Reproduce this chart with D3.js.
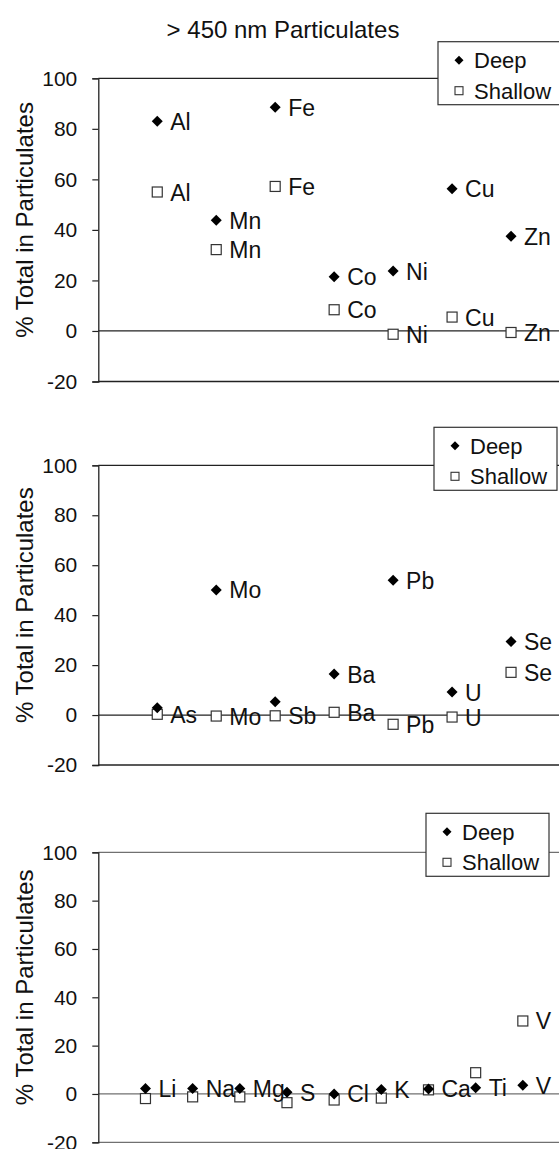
<!DOCTYPE html>
<html>
<head>
<meta charset="utf-8">
<script src="https://cdn.jsdelivr.net/npm/d3@7/dist/d3.min.js"></script>
<style>
  html, body { margin: 0; padding: 0; background: #fff; }
  svg { display: block; font-family: "Liberation Sans", Arial, Helvetica, sans-serif; }
</style>
</head>
<body>
<svg id="chart" width="559" height="1149"></svg>
<script>
// ---- data ----
const titleText = "> 450 nm Particulates";
const yAxisTitle = "% Total in Particulates";
const seriesNames = ["Deep", "Shallow"];
const yTicks = [-20, 0, 20, 40, 60, 80, 100];

// metals panel
const metalsElements = ["Al", "Mn", "Fe", "Co", "Ni", "Cu", "Zn"];
const metalsDeep     = [83, 43.8, 88.5, 21.5, 23.7, 56.3, 37.5];
const metalsShallow  = [55, 32.2, 57.2, 8.4, -1.3, 5.5, -0.6];
const metalsDeepLabelled    = [true, true, true, true, true, true, true];
const metalsShallowLabelled = [true, true, true, true, true, true, true];

// trace elements panel
const traceElements = ["As", "Mo", "Sb", "Ba", "Pb", "U", "Se"];
const traceDeep     = [2.9, 50.1, 5.3, 16.4, 54, 9.2, 29.4];
const traceShallow  = [0.3, -0.4, -0.3, 1.1, -3.7, -0.8, 17.1];
const traceDeepLabelled    = [false, true, false, true, true, true, true];
const traceShallowLabelled = [true, true, true, true, true, true, true];

// major elements panel
const majorElements = ["Li", "Na", "Mg", "S", "Cl", "K", "Ca", "Ti", "V"];
const majorDeep     = [2.3, 2.3, 2.3, 0.7, 0, 1.9, 2.1, 2.6, 3.6];
const majorShallow  = [-1.9, -1.2, -1.2, -3.6, -2.5, -1.7, 1.7, 8.8, 30.2];
const majorDeepLabelled    = [true, true, true, true, true, true, true, true, true];
const majorShallowLabelled = [false, false, false, false, false, false, false, false, true];

// ---- layout ----
const axisX = 98.3, plotRight = 570;
const panels = [
  { names: metalsElements, deep: metalsDeep, shallow: metalsShallow,
    deepLab: metalsDeepLabelled, shallowLab: metalsShallowLabelled, xMax: 8,
    top: 78.3, bottom: 381.5, legend: { x: 438, y: 41.7 }, lineColor: "#222" },
  { names: traceElements, deep: traceDeep, shallow: traceShallow,
    deepLab: traceDeepLabelled, shallowLab: traceShallowLabelled, xMax: 8,
    top: 465.3, bottom: 765, legend: { x: 434, y: 427.3 }, lineColor: "#222" },
  { names: majorElements, deep: majorDeep, shallow: majorShallow,
    deepLab: majorDeepLabelled, shallowLab: majorShallowLabelled, xMax: 10,
    top: 852.3, bottom: 1142.3, legend: { x: 426, y: 813.3 }, lineColor: "#707070" }
];

const svg = d3.select("#chart");

svg.append("text")
  .attr("x", 283).attr("y", 38)
  .attr("text-anchor", "middle")
  .attr("font-size", 24)
  .attr("fill", "#111")
  .text(titleText);

function diamond(r) {
  return `M0,${-r}L${r},0L0,${r}L${-r},0Z`;
}

panels.forEach(p => {
  const g = svg.append("g");
  const x = d3.scaleLinear().domain([0, p.xMax]).range([axisX, plotRight]);
  const y = d3.scaleLinear().domain([-20, 100]).range([p.bottom, p.top]);

  // plot frame: top and bottom borders, zero line
  [100, -20, 0].forEach(v => {
    g.append("line")
      .attr("x1", axisX).attr("x2", plotRight)
      .attr("y1", y(v)).attr("y2", y(v))
      .attr("stroke", p.lineColor)
      .attr("stroke-width", 1.3);
  });

  // y axis
  const axis = d3.axisLeft(y).tickValues(yTicks).tickSize(6).tickPadding(15)
    .tickFormat(d => String(d));
  const ag = g.append("g").attr("transform", `translate(${axisX},0)`).call(axis);
  ag.select(".domain").attr("stroke", "#222").attr("stroke-width", 1.3);
  ag.selectAll(".tick line").attr("stroke", "#222").attr("stroke-width", 1.2);
  ag.selectAll(".tick text")
    .attr("font-size", 21)
    .attr("font-family", "Liberation Sans, Arial, sans-serif")
    .attr("fill", "#111");

  // y axis title
  const mid = (p.top + p.bottom) / 2 - 10;
  g.append("text")
    .attr("transform", `translate(24,${mid}) rotate(-90)`)
    .attr("text-anchor", "middle")
    .attr("dominant-baseline", "central")
    .attr("font-size", 24)
    .attr("fill", "#111")
    .text(yAxisTitle);

  const rows = p.names.map((n, i) => ({
    name: n, i: i + 1, deep: p.deep[i], shallow: p.shallow[i],
    deepLab: p.deepLab[i], shallowLab: p.shallowLab[i]
  }));

  // shallow series (open squares)
  const s = 5;
  g.selectAll("rect.shallow").data(rows).join("rect")
    .attr("class", "shallow")
    .attr("x", d => x(d.i) - s).attr("y", d => y(d.shallow) - s)
    .attr("width", 2 * s).attr("height", 2 * s)
    .attr("fill", "#fff").attr("stroke", "#333").attr("stroke-width", 1.2);

  // deep series (filled diamonds)
  g.selectAll("path.deep").data(rows).join("path")
    .attr("class", "deep")
    .attr("transform", d => `translate(${x(d.i)},${y(d.deep)})`)
    .attr("d", diamond(5.5))
    .attr("fill", "#000");

  // point labels (element symbol right of the marker)
  const labelOf = key => g.selectAll("text.lbl-" + key)
    .data(rows.filter(d => d[key + "Lab"])).join("text")
    .attr("class", "lbl-" + key)
    .attr("x", d => x(d.i) + 13)
    .attr("y", d => y(d[key]) + 8.5)
    .attr("font-size", 23)
    .attr("fill", "#111")
    .text(d => d.name);
  labelOf("shallow");
  labelOf("deep");

  // legend
  const lg = g.append("g").attr("transform", `translate(${p.legend.x},${p.legend.y})`);
  lg.append("rect").attr("width", 123).attr("height", 63)
    .attr("fill", "#fff").attr("stroke", "#333").attr("stroke-width", 1.2);
  lg.append("path").attr("d", diamond(4.5))
    .attr("transform", "translate(21,18.5)").attr("fill", "#000");
  lg.append("rect").attr("x", 21 - 4).attr("y", 49 - 4).attr("width", 8).attr("height", 8)
    .attr("fill", "#fff").attr("stroke", "#333").attr("stroke-width", 1.1);
  seriesNames.forEach((nm, k) => {
    lg.append("text")
      .attr("x", 36).attr("y", (k === 0 ? 18.5 : 49) + 8)
      .attr("font-size", 22)
      .attr("fill", "#111")
      .text(nm);
  });
});
</script>
</body>
</html>
